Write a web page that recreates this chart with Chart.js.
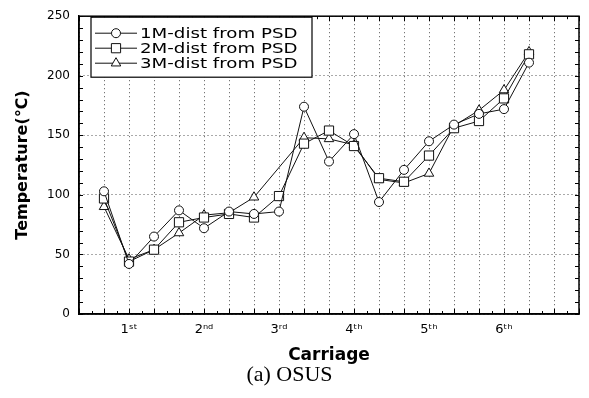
<!DOCTYPE html>
<html>
<head>
<meta charset="utf-8">
<script src="https://cdn.jsdelivr.net/npm/chart.js@4/dist/chart.umd.min.js"></script>
<style>
  html, body { margin: 0; padding: 0; background: #fff; }
</style>
</head>
<body>
<canvas id="myChart" width="589" height="398"></canvas>
<script>
// carriage labels (three readings per carriage)
const carriages = ['1\u02E2\u1D57', '2\u207F\u1D48', '3\u02B3\u1D48', '4\u1D57\u02B0', '5\u1D57\u02B0', '6\u1D57\u02B0'];
const seriesNames = ['1M-dist from PSD', '2M-dist from PSD', '3M-dist from PSD'];

// temperatures (deg C)
const dist1M = [103, 42, 65, 87, 72, 86, 84, 86, 174, 128, 151, 94, 121, 145, 159, 168, 172, 211];
const dist2M = [97, 44, 54, 77, 81, 84, 81, 99, 143, 154, 141, 114, 111, 133, 156, 162, 181, 218];
const dist3M = [90, 46, 54, 68, 83, 85, 98, null, 148, 147, 142, 113, 110, 118, 158, 171, 188, 220];

const yTicks = [0, 50, 100, 150, 200, 250];
const pointStyles = ['circle', 'rect', 'triangle'];
const pointSizes = [4.5, 6.5, 5.5];

const toPoints = arr => arr.map((v, i) => ({ x: i + 1, y: v }));

const frame = {
  id: 'frame',
  afterDraw(chart) {
    const ctx = chart.ctx;
    const a = chart.chartArea;
    const xs = chart.scales.x, ys = chart.scales.y;
    ctx.save();
    ctx.strokeStyle = '#000';
    ctx.lineWidth = 1;
    // small inward ticks on all four sides
    ctx.beginPath();
    for (let v = 0; v <= 250; v += 10) {
      const y = Math.round(ys.getPixelForValue(v)) + 0.5;
      ctx.moveTo(a.left, y); ctx.lineTo(a.left + 4, y);
      ctx.moveTo(a.right, y); ctx.lineTo(a.right - 4, y);
    }
    for (let v = 0; v <= 20; v += 0.5) {
      const x = Math.round(xs.getPixelForValue(v)) + 0.5;
      const len = v % 1 === 0 ? 5 : 3;
      ctx.moveTo(x, a.bottom); ctx.lineTo(x, a.bottom - len);
      ctx.moveTo(x, a.top); ctx.lineTo(x, a.top + len);
    }
    ctx.stroke();
    ctx.lineWidth = 1.5;
    ctx.strokeRect(a.left, a.top, a.right - a.left, a.bottom - a.top);

    // legend box
    const bx = a.left + 12, by = a.top + 1, bw = 221, bh = 60;
    ctx.fillStyle = '#fff';
    ctx.fillRect(bx, by, bw, bh);
    ctx.lineWidth = 1.2;
    ctx.strokeRect(bx, by, bw, bh);
    chart.data.datasets.forEach((ds, i) => {
      const cy = by + 16 + i * 15;
      ctx.lineWidth = 1;
      ctx.strokeStyle = '#111';
      ctx.beginPath();
      ctx.moveTo(bx + 4, cy); ctx.lineTo(bx + 46, cy);
      ctx.stroke();
      ctx.fillStyle = '#fff';
      Chart.helpers.drawPoint(ctx, { pointStyle: ds.pointStyle, radius: ds.pointRadius, rotation: 0, borderWidth: 1 }, bx + 25, cy);
      ctx.save();
      ctx.translate(bx + 49, cy);
      ctx.scale(1.3, 1);
      ctx.fillStyle = '#000';
      ctx.font = '14px "DejaVu Sans"';
      ctx.textBaseline = 'middle';
      ctx.fillText(ds.label, 0, 1);
      ctx.restore();
    });
    ctx.restore();
  }
};

const ctx = document.getElementById('myChart').getContext('2d');

const gridStyle = { color: '#555', lineWidth: 1, drawTicks: false };
const borderStyle = { display: true, color: '#000', width: 1.5, dash: [1, 3] };

const myChart = new Chart(ctx, {
  type: 'line',
  data: {
    datasets: [dist1M, dist2M, dist3M].map((arr, i) => ({
      label: seriesNames[i],
      data: toPoints(arr),
      borderColor: '#111',
      borderWidth: 1,
      pointStyle: pointStyles[i],
      pointRadius: pointSizes[i],
      pointBackgroundColor: '#fff',
      pointBorderColor: '#111',
      pointBorderWidth: 1,
      tension: 0,
      spanGaps: true
    }))
  },
  options: {
    responsive: false,
    animation: false,
    devicePixelRatio: 1,
    layout: { padding: { top: 10, right: 10, left: 0, bottom: 0 } },
    plugins: {
      legend: { display: false },
      tooltip: { enabled: false },
      title: {
        display: true,
        position: 'bottom',
        text: '(a) OSUS',
        color: '#000',
        font: { family: 'Liberation Serif', size: 22, weight: 'normal' },
        padding: { top: 0, bottom: 10 }
      }
    },
    scales: {
      x: {
        type: 'linear',
        min: 0,
        max: 20,
        afterFit: s => { s.height = 47.6; },
        afterBuildTicks: s => { s.ticks = Array.from({ length: 21 }, (_, i) => ({ value: i })); },
        ticks: {
          autoSkip: false,
          maxRotation: 0,
          padding: 8,
          color: '#000',
          font: { family: 'DejaVu Sans', size: 13 },
          callback: v => (v % 3 === 2 && v < 18) ? carriages[(v - 2) / 3] : ''
        },
        grid: gridStyle,
        border: borderStyle,
        title: {
          display: true,
          text: 'Carriage',
          color: '#000',
          font: { family: 'DejaVu Sans', size: 17, weight: 'bold', lineHeight: 1 },
          padding: { top: 0, bottom: -2 }
        }
      },
      y: {
        min: 0,
        max: 250,
        afterFit: s => { s.width = 79; },
        afterBuildTicks: s => { s.ticks = yTicks.map(v => ({ value: v })); },
        ticks: {
          padding: 9,
          color: '#000',
          font: { family: 'DejaVu Sans', size: 12 }
        },
        grid: gridStyle,
        border: borderStyle,
        title: {
          display: true,
          text: 'Temperature(\u2103)',
          color: '#000',
          font: { family: 'DejaVu Sans', size: 16, weight: 'bold' },
          padding: { top: 13, bottom: 0 }
        }
      }
    }
  },
  plugins: [frame]
});
</script>
</body>
</html>
